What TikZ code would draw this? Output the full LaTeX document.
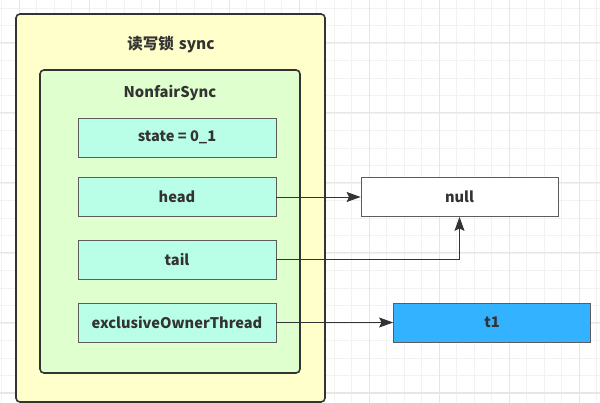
\documentclass[tikz,border=0pt]{standalone}
\usepackage{fontspec}
\setmainfont{Noto Sans CJK SC}
\usetikzlibrary{arrows.meta}
\definecolor{outerfill}{HTML}{FFFFCC}
\definecolor{innerfill}{HTML}{E0FFCE}
\definecolor{fieldfill}{HTML}{B9FFE8}
\definecolor{bluefill}{HTML}{33B3FF}
\definecolor{edge}{HTML}{333333}
\definecolor{gridthin}{HTML}{F2F2F2}
\definecolor{gridthick}{HTML}{E6E6E6}
\tikzset{
  container/.style={draw=edge, line width=1.6pt, rounded corners=4pt, inner sep=0pt},
  field/.style={draw=edge!80, line width=0.8pt, fill=fieldfill, minimum width=198pt, minimum height=39pt, inner sep=0pt, font=\fontsize{14.6}{17}\selectfont\bfseries, text=edge},
  valbox/.style={draw=edge!80, line width=0.8pt, minimum width=197pt, minimum height=39pt, inner sep=0pt, font=\fontsize{14.6}{17}\selectfont\bfseries, text=edge},
  label/.style={font=\fontsize{14.8}{17}\selectfont\bfseries, text=edge, inner sep=0pt},
  arr/.style={draw=edge, line width=0.9pt, -{Stealth[length=14pt,width=10pt,inset=2.5pt]}},
}
\begin{document}
\begin{tikzpicture}[x=1pt,y=-1pt]
\useasboundingbox (0,0) rectangle (600,403);
\fill[white] (0,0) rectangle (600,403);
% grid
\foreach \i in {0,...,34} {
  \draw[gridthin, line width=0.8pt] ({1.5+17.5*\i},0) -- ({1.5+17.5*\i},403);
}
\foreach \i in {0,...,23} {
  \draw[gridthin, line width=0.8pt] (0,{8+17.5*\i}) -- (600,{8+17.5*\i});
}
\foreach \i in {0,...,8} {
  \draw[gridthick, line width=1pt] ({19+70*\i},0) -- ({19+70*\i},403);
}
\foreach \i in {0,...,5} {
  \draw[gridthick, line width=1pt] (0,{43+70*\i}) -- (600,{43+70*\i});
}
% containers
\node[container, fill=outerfill, minimum width=309pt, minimum height=388pt] (outer) at (170.5,208) {};
\node[label, font=\fontsize{15.5}{18}\selectfont\bfseries] (title) at (171,45) {读写锁\hspace{5pt}sync};
\node[container, fill=innerfill, minimum width=260pt, minimum height=303pt] (inner) at (170,221.5) {};
\node[label] (ntitle) at (170,93) {NonfairSync};
% fields
\node[field] (state) at (177,137.5) {state = 0\_1};
\node[field] (head) at (177,197) {head};
\node[field] (tail) at (177,259.5) {tail};
\node[field] (excl) at (177,322.5) {exclusiveOwnerThread};
% values
\node[valbox, fill=white] (null) at (459.5,197) {null};
\node[valbox, fill=bluefill] (t1) at (492,322.5) {t1};
% connectors
\draw[arr] (head.east) -- (null.west);
\draw[arr] (tail.east) -| (null.south);
\draw[arr] (excl.east) -- (t1.west);
\end{tikzpicture}
\end{document}
